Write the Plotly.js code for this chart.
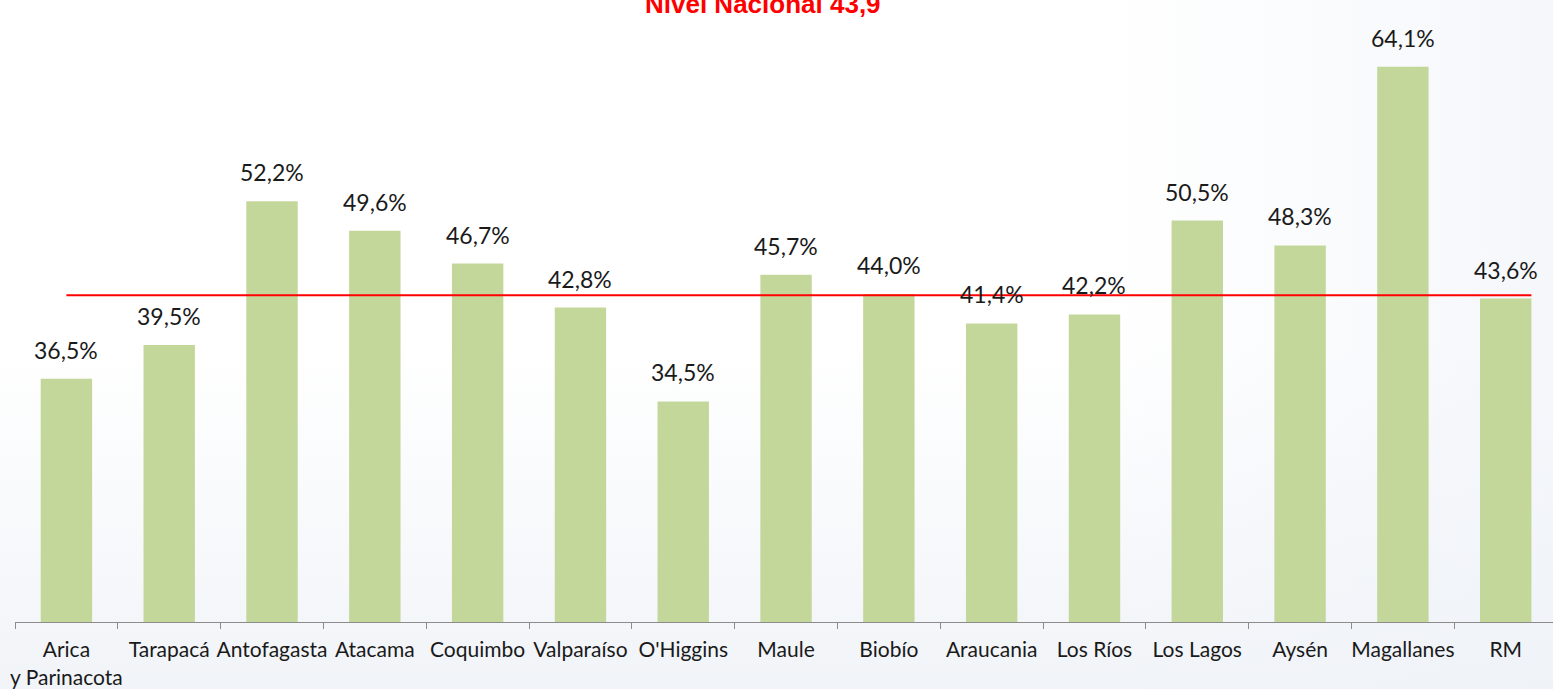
<!DOCTYPE html>
<html>
<head>
<meta charset="utf-8">
<script src="https://cdn.plot.ly/plotly-3.0.1.min.js"></script>
<style>
  html, body { margin: 0; padding: 0; }
  body {
    width: 1553px; height: 689px; overflow: hidden;
    background:
      linear-gradient(90deg, rgba(255,255,255,0) 70%, rgba(238,242,248,0.6) 100%),
      linear-gradient(180deg, #ffffff 0%, #ffffff 50%, #f1f4f8 100%);
  }
  #chart { width: 1553px; height: 689px; }
</style>
</head>
<body>
<div id="chart"></div>
<script>
// ---- data ----
const regions = ["Arica<br>y Parinacota", "Tarapacá", "Antofagasta", "Atacama", "Coquimbo",
  "Valparaíso", "O'Higgins", "Maule", "Biobío", "Araucania", "Los Ríos", "Los Lagos",
  "Aysén", "Magallanes", "RM"];
const values = [36.5, 39.5, 52.2, 49.6, 46.7, 42.8, 34.5, 45.7, 44.0, 41.4, 42.2, 50.5, 48.3, 64.1, 43.6];
const nationalLevel = 43.9;
const titleText = "Nivel Nacional 43,9";

const fmt = v => v.toFixed(1).replace('.', ',') + '%';

const bars = {
  type: 'bar',
  x: regions,
  y: values,
  marker: { color: '#c4d79b' },
  hoverinfo: 'x+y'
};

const labelAnnotations = values.map((v, i) => ({
  x: regions[i], y: v, xref: 'x', yref: 'y',
  text: fmt(v), showarrow: false,
  yanchor: 'bottom', yshift: 13,
  font: { family: 'Lato, sans-serif', size: 23, color: '#1a1a1a' }
}));

const layout = {
  width: 1553, height: 689,
  margin: { l: 15, r: 0, t: 0, b: 67 },
  paper_bgcolor: 'rgba(0,0,0,0)',
  plot_bgcolor: 'rgba(0,0,0,0)',
  showlegend: false,
  bargap: 0.5,
  xaxis: {
    type: 'category',
    range: [-0.5, 14.46],
    showline: true, linecolor: '#8c8c8c', linewidth: 1,
    ticks: 'outside', tickson: 'boundaries', ticklen: 6, tickcolor: '#8c8c8c',
    ticklabelstandoff: 9,
    tickangle: 0,
    tickfont: { family: 'Lato, sans-serif', size: 21, color: '#1a1a1a' },
    showgrid: false, zeroline: false, fixedrange: true
  },
  yaxis: {
    range: [15, 70],
    visible: false, showgrid: false, zeroline: false, fixedrange: true
  },
  shapes: [{
    type: 'line', xref: 'x', yref: 'y',
    x0: 0, x1: values.length - 1 + 0.25,
    y0: nationalLevel, y1: nationalLevel,
    line: { color: '#ff0000', width: 2 }
  }],
  annotations: [
    {
      xref: 'paper', yref: 'paper', x: 0.4865, y: 1,
      xanchor: 'center', yanchor: 'bottom', yshift: -21,
      text: '<b>' + titleText + '</b>', showarrow: false,
      font: { family: 'Liberation Sans, Arial, sans-serif', size: 26, color: '#ff0000' }
    }
  ].concat(labelAnnotations)
};

Plotly.newPlot('chart', [bars], layout, { displayModeBar: false, staticPlot: true });
</script>
</body>
</html>
